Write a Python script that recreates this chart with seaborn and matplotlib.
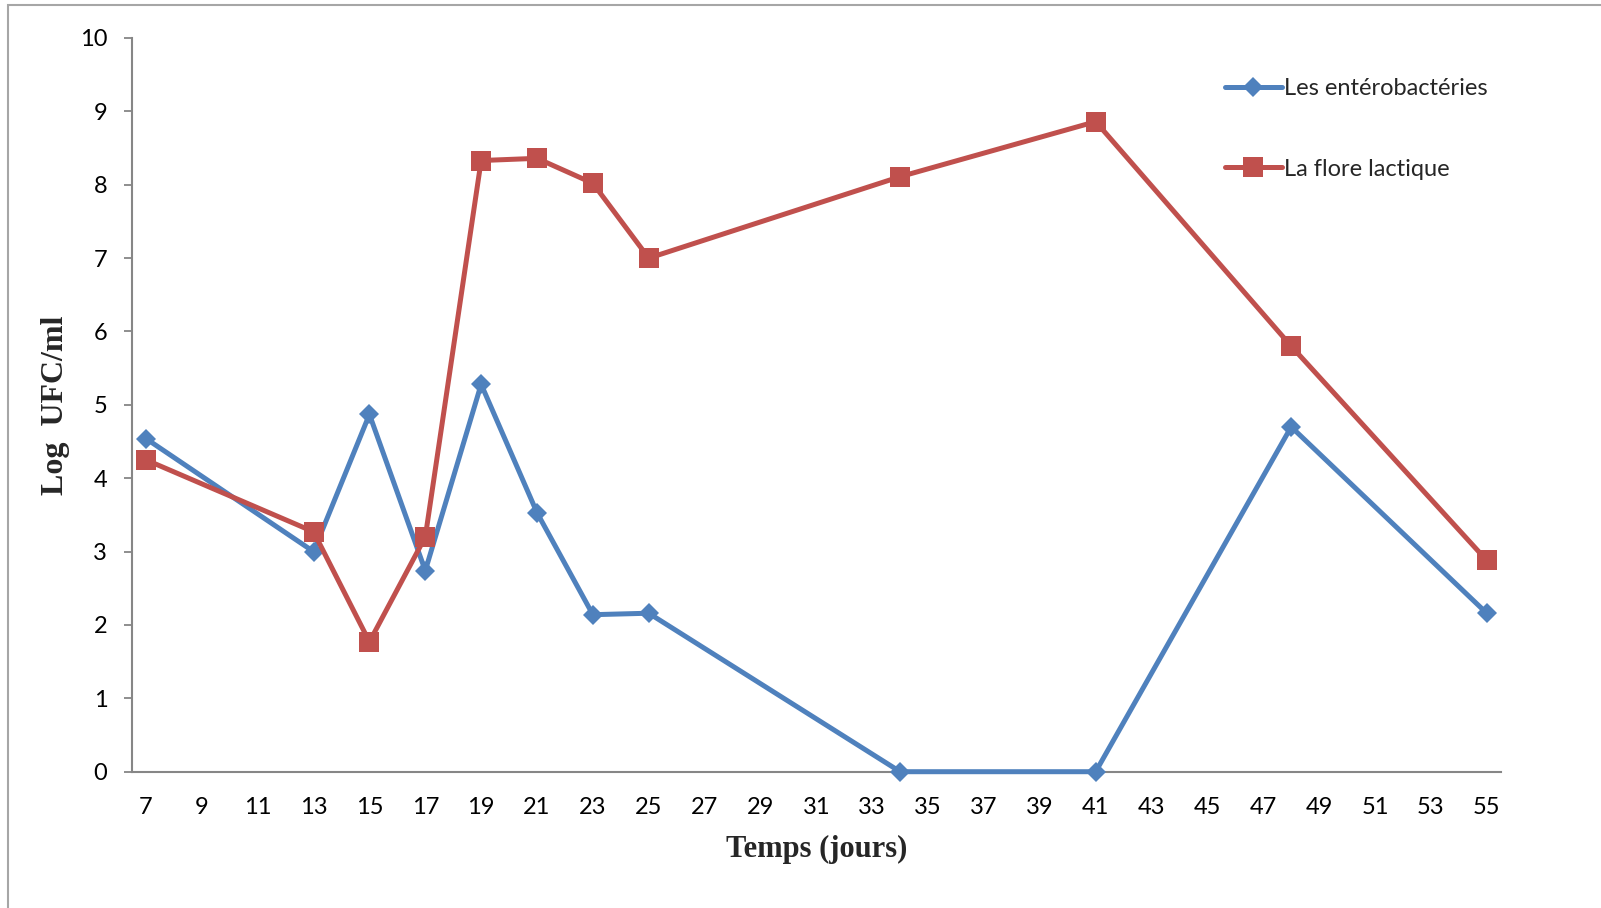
import matplotlib
matplotlib.use("Agg")
import matplotlib.pyplot as plt
from matplotlib.patches import Rectangle
import numpy as np
import pandas as pd
import seaborn as sns

# Sampling days and log counts for both microbial groups
jours = [7, 13, 15, 17, 19, 21, 23, 25, 34, 41, 48, 55]
enterobacteries = [4.54, 3.0, 4.87, 2.74, 5.28, 3.53, 2.14, 2.16, 0.0, 0.0, 4.70, 2.16]
flore_lactique = [4.25, 3.27, 1.77, 3.20, 8.33, 8.36, 8.02, 7.0, 8.11, 8.86, 5.80, 2.88]

series_names = ["Les entérobactéries", "La flore lactique"]
x_ticks = list(range(7, 56, 2))
y_ticks = list(range(0, 11))

sns.set_style("white")
plt.rcParams["font.family"] = ["Lato", "DejaVu Sans"]

BLUE = "#4F81BD"
RED = "#C0504D"
GREY = "#868686"

df_entero = pd.DataFrame({"jour": jours, "log": enterobacteries})
df_lact = pd.DataFrame({"jour": jours, "log": flore_lactique})

fig = plt.figure(figsize=(16.01, 9.08), dpi=100)
ax = fig.add_axes([132 / 1601, 1 - 771.7 / 908, (1500.7 - 132) / 1601, (771.7 - 38) / 908])

sns.lineplot(data=df_entero, x="jour", y="log", ax=ax, color=BLUE, lw=3.6,
             marker="D", markersize=10.3, markeredgewidth=0,
             label=series_names[0], sort=False, clip_on=False)
sns.lineplot(data=df_lact, x="jour", y="log", ax=ax, color=RED, lw=3.6,
             marker="s", markersize=14, markeredgewidth=0,
             label=series_names[1], sort=False, clip_on=False)

ax.set_xlim(6.5, 55.5)
ax.set_ylim(0, 10)
ax.set_xticks(x_ticks)
ax.set_yticks(y_ticks)
ax.tick_params(axis="x", length=0, pad=18, labelsize=17, labelcolor="black")
ax.tick_params(axis="y", length=5.8, width=1.3, color=GREY, pad=12, labelsize=17,
               labelcolor="black", direction="out", left=True)

for side in ("top", "right"):
    ax.spines[side].set_visible(False)
for side in ("left", "bottom"):
    ax.spines[side].set_color(GREY)
    ax.spines[side].set_linewidth(1.5)
    ax.spines[side].set_zorder(1)

ax.set_xlabel("Temps (jours)", family="Liberation Serif", fontweight="bold", fontsize=22)
ax.set_ylabel("Log  UFC/ml", family="Liberation Serif", fontweight="bold", fontsize=23)
ax.xaxis.label.set_va("center")
ax.yaxis.label.set_va("center")
ax.xaxis.set_label_coords(0.5, (771.7 - 849) / 733.7)
ax.yaxis.set_label_coords((55 - 132) / 1368.7, 0.5)

leg = ax.legend(loc="upper left", bbox_to_anchor=(1225 / 1601, 1 - 78 / 908),
                bbox_transform=fig.transFigure, frameon=False, fontsize=17,
                handlelength=2.4, handletextpad=0.1, labelspacing=2.52,
                borderpad=0, borderaxespad=0)

# Thin grey frame along the left and top of the figure
fig.patches.append(Rectangle((8 / 1601, -0.5), 2.0, 1.5 - 5 / 908,
                             transform=fig.transFigure, fill=False,
                             edgecolor="#A6A6A6", linewidth=1.5, clip_on=False))

fig.savefig("out.png", dpi=100)
